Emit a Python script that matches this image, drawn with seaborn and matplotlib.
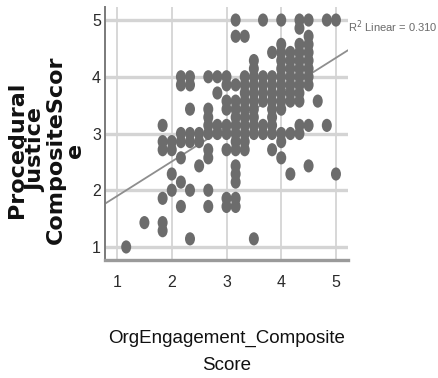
import matplotlib
matplotlib.use("Agg")
import matplotlib.pyplot as plt
from matplotlib.path import Path
from matplotlib.transforms import Affine2D
import pandas as pd
import seaborn as sns

# Composite scores: engagement moves in sixths, procedural justice in sevenths.
# Each line below is one engagement value and the justice scores observed at it.
org_engagement = (
    [1.167]
    + [1.5]
    + [1.833] * 6
    + [2.0] * 4
    + [2.167] * 7
    + [2.333] * 7
    + [2.5] * 3
    + [2.667] * 9
    + [2.833] * 4
    + [3.0] * 9
    + [3.167] * 15
    + [3.333] * 11
    + [3.5] * 11
    + [3.667] * 7
    + [3.833] * 10
    + [4.0] * 13
    + [4.167] * 9
    + [4.333] * 12
    + [4.5] * 10
    + [4.667]
    + [4.833] * 2
    + [5.0] * 2
)
procedural_justice = (
    [1.0]
    + [1.429]
    + [3.143, 2.857, 2.714, 1.857, 1.429, 1.286]
    + [2.857, 2.714, 2.286, 2.0]
    + [4.0, 3.857, 3.0, 2.857, 2.571, 2.143, 1.714]
    + [4.0, 3.857, 3.429, 3.0, 2.857, 2.0, 1.143]
    + [3.0, 2.857, 2.429]
    + [4.0, 3.429, 3.286, 3.143, 3.0, 2.714, 2.571, 2.0, 1.714]
    + [4.0, 3.714, 3.143, 3.0]
    + [4.0, 3.857, 3.571, 3.429, 3.143, 3.0, 2.714, 1.857, 1.714]
    + [5.0, 4.714, 3.857, 3.571, 3.429, 3.286, 3.143, 3.0, 2.857, 2.714,
       2.429, 2.286, 2.143, 1.857, 1.714]
    + [4.714, 4.0, 3.857, 3.714, 3.571, 3.429, 3.286, 3.143, 3.0, 2.857, 2.714]
    + [4.286, 4.143, 4.0, 3.857, 3.714, 3.571, 3.429, 3.286, 3.143, 3.0, 1.143]
    + [5.0, 4.0, 3.857, 3.714, 3.571, 3.143, 3.0]
    + [4.429, 4.0, 3.857, 3.714, 3.571, 3.429, 3.286, 3.143, 3.0, 2.714]
    + [5.0, 4.571, 4.429, 4.286, 4.143, 4.0, 3.857, 3.714, 3.571, 3.429,
       3.0, 2.857, 2.571]
    + [4.429, 4.286, 4.143, 4.0, 3.857, 3.714, 3.571, 3.0, 2.286]
    + [5.0, 4.857, 4.571, 4.429, 4.286, 4.143, 4.0, 3.857, 3.714, 3.571,
       3.143, 3.0]
    + [5.0, 4.714, 4.571, 4.429, 4.286, 4.143, 4.0, 3.857, 3.143, 2.429]
    + [3.571]
    + [5.0, 3.143]
    + [5.0, 2.286]
)

x_ticks = [1, 2, 3, 4, 5]
y_ticks = [1, 2, 3, 4, 5]
fit_label = "R$^2$ Linear = 0.310"
x_title = "OrgEngagement_Composite\nScore"
y_title = "Procedural\nJustice\nCompositeScor\ne"

df = pd.DataFrame({"engagement": org_engagement, "justice": procedural_justice})

sns.set_style("white")
plt.rcParams["font.family"] = ["Liberation Sans", "DejaVu Sans"]

W, H = 438, 378
fig = plt.figure(figsize=(W / 100, H / 100), dpi=100)
ax = fig.add_axes([105 / W, 1 - 260 / H, 243 / W, 253 / H])
ax.set_xlim(0.78, 5.22)
ax.set_ylim(0.77, 5.23)

# slightly tall oval markers
oval = Path.unit_circle().transformed(Affine2D().scale(0.76, 1.0))
sns.scatterplot(data=df, x="engagement", y="justice", ax=ax, marker=oval,
                s=90, color="#6c6c6c", edgecolor="none", linewidth=0,
                zorder=3)
sns.regplot(data=df, x="engagement", y="justice", ax=ax, scatter=False,
            ci=None, truncate=False,
            line_kws=dict(color="#8e8e8e", lw=1.3, zorder=2))
ax.set_xlim(0.78, 5.22)
ax.set_ylim(0.77, 5.23)
ax.set_xlabel("")
ax.set_ylabel("")

ax.set_xticks(x_ticks)
ax.set_yticks(y_ticks)
ax.set_axisbelow(True)
ax.xaxis.grid(True, color="#d4d4d4", lw=1.3)
ax.yaxis.grid(True, color="#d4d4d4", lw=2.4)
ax.tick_params(axis="both", length=0, labelsize=11.5, labelcolor="#2a2a2a")
ax.tick_params(axis="x", pad=11)
ax.tick_params(axis="y", pad=3)

sns.despine(ax=ax)
ax.spines["left"].set_color("#7a7a7a")
ax.spines["left"].set_linewidth(1.4)
ax.spines["bottom"].set_color("#9a9a9a")
ax.spines["bottom"].set_linewidth(2.4)

fig.text(348 / W, 1 - 27 / H, fit_label, fontsize=8, color="#6a6a6a",
         ha="left", va="center")

fig.text(227 / W, 1 - 352 / H, x_title, fontsize=13.5, color="#111111",
         ha="center", va="center", linespacing=1.75)
fig.text(46 / W, 1 - 150 / H, y_title, fontsize=16, color="#111111",
         family=["DejaVu Sans"], fontweight="bold", rotation=90,
         ha="center", va="center", multialignment="center", linespacing=0.96)

fig.savefig("out.png", dpi=100)
